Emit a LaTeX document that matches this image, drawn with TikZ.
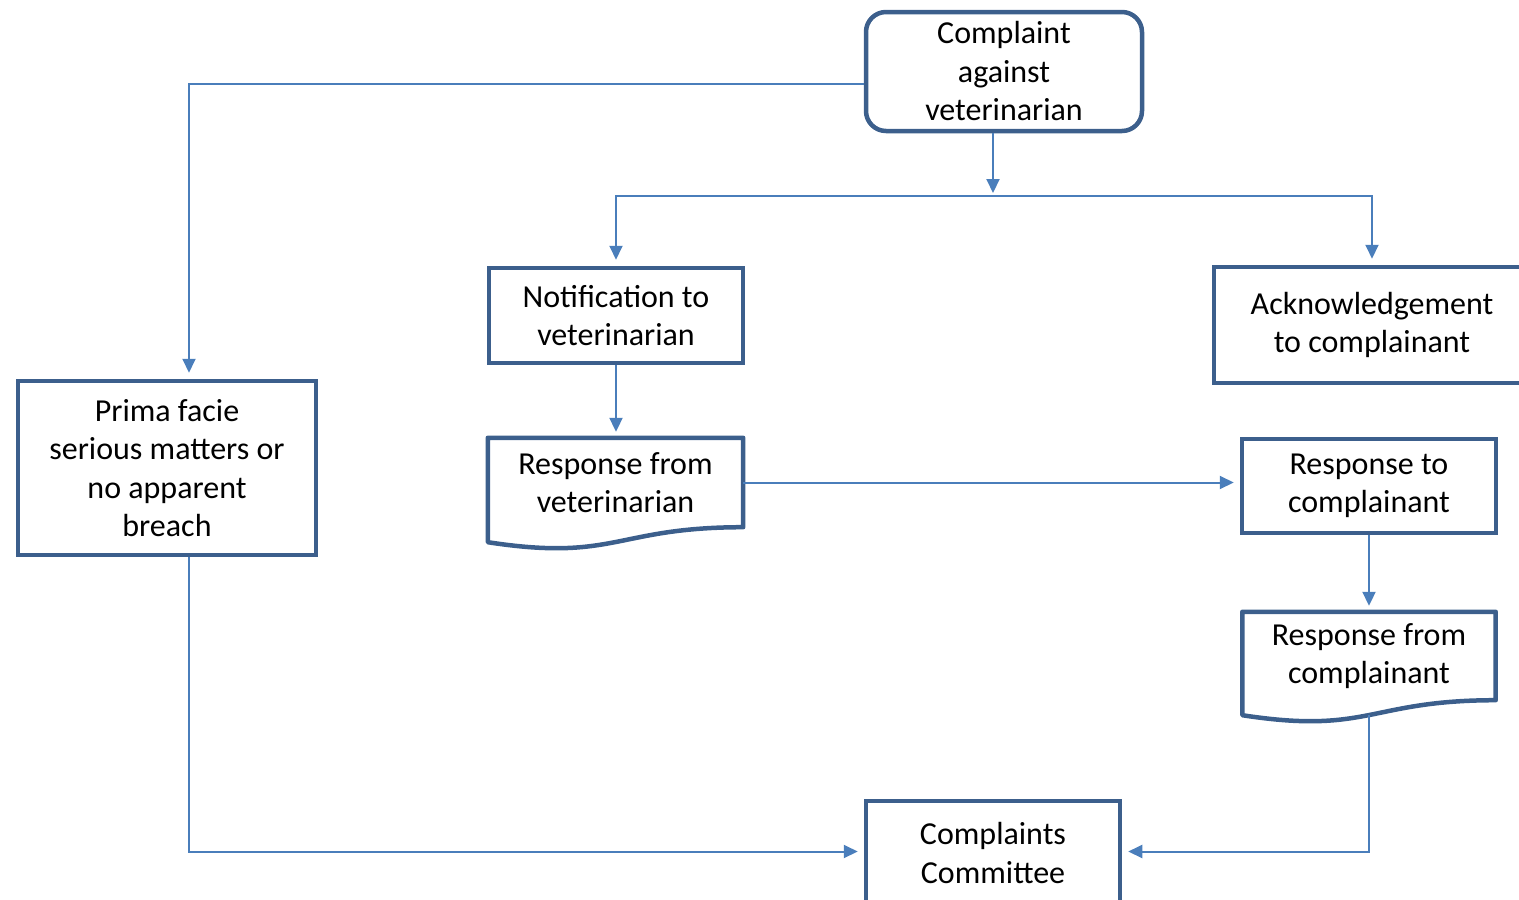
\documentclass[tikz,border=0pt]{standalone}
\usepackage{fontspec}
\setmainfont{Carlito}
\usepackage{tikz}
\usetikzlibrary{arrows.meta}
\definecolor{boxBlue}{RGB}{60,95,140}
\definecolor{linkBlue}{RGB}{74,126,187}

% Document shape (wavy bottom)
\newcommand\docdraw[1]{%
	\draw[draw=boxBlue,line width=4.5pt,line join=round] (#1.north west) -- (#1.north east) -- (#1.south east) .. controls (#1.south) and ([yshift=-34.6pt]#1.south) .. ([yshift=-15pt]#1.south west) -- cycle;
	\coordinate (#1-wave) at ([yshift=-15pt]#1.south);}

\begin{document}
\begin{tikzpicture}[x=1pt,y=-1pt,
	every node/.style={font=\fontsize{32}{38.5}\selectfont,align=center,text=black},
	procbox/.style={draw=boxBlue,line width=4.5pt,rectangle,inner sep=0pt},
	docbox/.style={rectangle,inner sep=0pt},
	link/.style={draw=linkBlue,line width=2pt,-{Triangle[length=14pt,width=13pt]},shorten >=6pt}]
	%
	% Cadre
	\useasboundingbox (0,0) rectangle (1519,900);
	\clip (0,0) rectangle (1519,900);
	%
	% Boites
	\node[procbox,rounded corners=20pt,minimum width=276pt,minimum height=119pt] (complaint) at (1004,71.5) {Complaint\\against\\veterinarian};
	\node[procbox,minimum width=254pt,minimum height=95pt] (notify) at (616,315.5) {Notification to\\veterinarian};
	\node[docbox,minimum width=255pt,minimum height=89pt] (rvet) at (615.5,482.5) {Response from\\veterinarian};
	\node[procbox,minimum width=316pt,minimum height=116pt] (ack) at (1372,325) {Acknowledgement\\to complainant};
	\node[procbox,minimum width=254pt,minimum height=94pt] (rtoc) at (1369,486) {Response to\\complainant};
	\node[docbox,minimum width=253pt,minimum height=88pt] (rfc) at (1369,656) {Response from\\complainant};
	\node[procbox,minimum width=298pt,minimum height=174pt] (prima) at (167,468) {Prima facie\\serious matters or\\no apparent\\breach};
	\node[procbox,minimum width=254pt,minimum height=104pt] (committee) at (993,853) {Complaints\\Committee};
	\docdraw{rvet}
	\docdraw{rfc}
	%
	% Liens
	\coordinate (split) at (993,196);
	\draw[link] ([yshift=-12.5pt]complaint.west) -| ([xshift=22pt]prima.north);
	\draw[link,shorten >=3pt] ([xshift=-11pt]complaint.south) -- (split);
	\draw[link] (split) -| (notify.north);
	\draw[link] (split) -| (ack.north);
	\draw[link] (notify.south) -- (notify.south |- rvet.north);
	\draw[link] (rvet.east) -- (rvet.east -| rtoc.west);
	\draw[link] (rtoc.south) -- (rfc.north);
	\draw[link] (rfc-wave) |- ([yshift=1.5pt]committee.east);
	\draw[link] ([xshift=22pt]prima.south) |- ([yshift=1.5pt]committee.west);
\end{tikzpicture}
\end{document}
